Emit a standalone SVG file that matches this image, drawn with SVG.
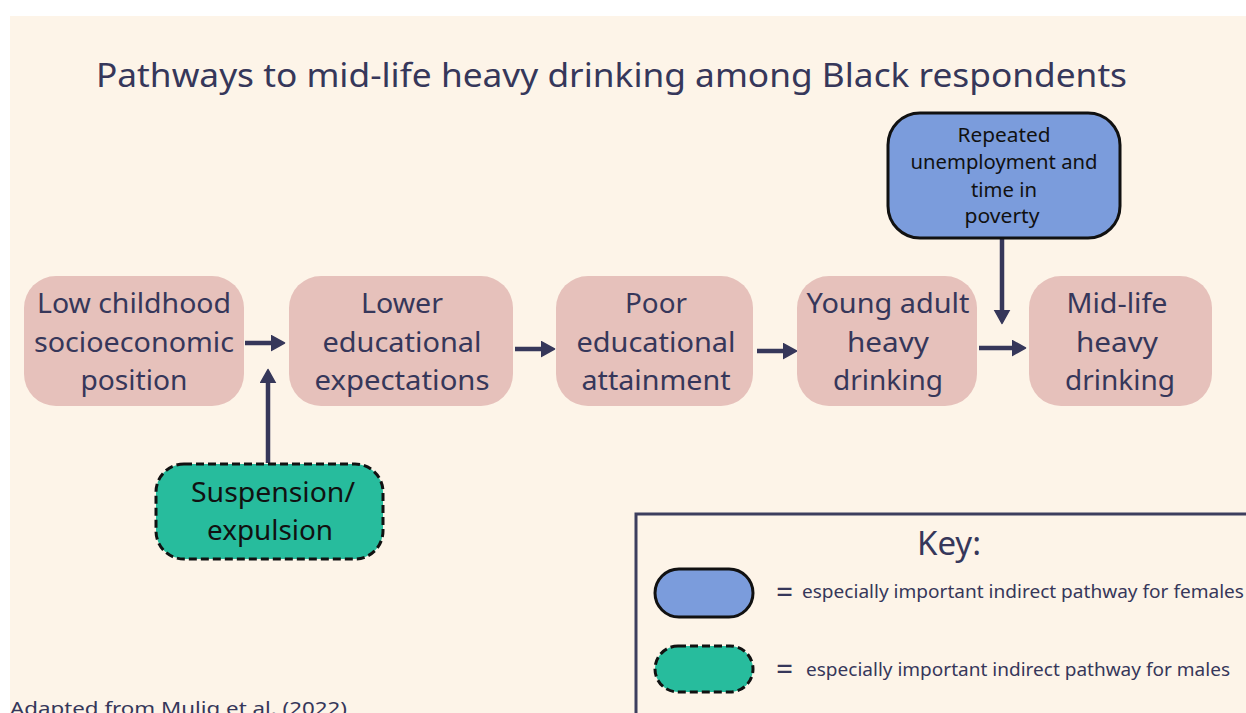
<svg xmlns="http://www.w3.org/2000/svg" width="1246" height="713" viewBox="0 0 1246 713">
  <defs>
    <marker id="head" markerUnits="userSpaceOnUse" markerWidth="15" markerHeight="18" refX="0" refY="8.5" orient="auto">
      <path d="M0,1 L13.5,8.5 L0,16 z" fill="#36375a" stroke="#36375a" stroke-width="1.5" stroke-linejoin="round"/>
    </marker>
    <style>
      .bg { fill: #fdf4e8; }
      .node { fill: #e6c1bb; }
      .ntext { font-family: "Noto Sans", "Liberation Sans", sans-serif; font-size: 27px; fill: #36375a; text-anchor: middle; }
      .title { font-family: "Noto Sans", "Liberation Sans", sans-serif; font-size: 33px; fill: #36375a; }
      .female { fill: #7b9cdc; stroke: #111; stroke-width: 3; }
      .male { fill: #27bc9d; stroke: #111; stroke-width: 3; stroke-dasharray: 8 4; }
      .btext { font-family: "Noto Sans", "Liberation Sans", sans-serif; font-size: 19px; fill: #111; text-anchor: middle; }
      .gtext { font-family: "Noto Sans", "Liberation Sans", sans-serif; font-size: 27px; fill: #111; text-anchor: middle; }
      .conn { fill: none; stroke: #36375a; stroke-width: 4.5; marker-end: url(#head); }
      .legend { font-family: "Noto Sans", "Liberation Sans", sans-serif; font-size: 18px; fill: #36375a; }
      .eq { font-family: "Noto Sans", "Liberation Sans", sans-serif; font-size: 30px; fill: #36375a; }
      .keybox { fill: none; stroke: #3d3e5e; stroke-width: 3; }
    </style>
  </defs>

  <!-- page -->
  <rect x="0" y="0" width="1246" height="713" fill="#ffffff"/>
  <rect class="bg" x="10" y="16" width="1236" height="697"/>

  <text class="title" x="96" y="87" textLength="1031" lengthAdjust="spacingAndGlyphs">Pathways to mid-life heavy drinking among Black respondents</text>

  <!-- connectors -->
  <g id="connectors">
    <path class="conn" d="M245,343 H271"/>
    <path class="conn" d="M268,463 V383"/>
    <path class="conn" d="M515,349 H541"/>
    <path class="conn" d="M757,351 H783"/>
    <path class="conn" d="M979,348 H1012"/>
    <path class="conn" d="M1002,239 V310"/>
  </g>

  <!-- main pathway -->
  <g id="node-ses">
    <rect class="node" x="24" y="276" width="220" height="130" rx="32"/>
    <text class="ntext" x="134" y="313" textLength="194" lengthAdjust="spacingAndGlyphs">Low childhood</text>
    <text class="ntext" x="134" y="352" textLength="200" lengthAdjust="spacingAndGlyphs">socioeconomic</text>
    <text class="ntext" x="134" y="390" textLength="107" lengthAdjust="spacingAndGlyphs">position</text>
  </g>

  <g id="node-expectations">
    <rect class="node" x="289" y="276" width="224" height="130" rx="32"/>
    <text class="ntext" x="402" y="313" textLength="82" lengthAdjust="spacingAndGlyphs">Lower</text>
    <text class="ntext" x="402" y="352" textLength="159" lengthAdjust="spacingAndGlyphs">educational</text>
    <text class="ntext" x="402" y="390" textLength="175" lengthAdjust="spacingAndGlyphs">expectations</text>
  </g>

  <g id="node-attainment">
    <rect class="node" x="556" y="276" width="197" height="130" rx="32"/>
    <text class="ntext" x="656" y="313" textLength="62" lengthAdjust="spacingAndGlyphs">Poor</text>
    <text class="ntext" x="656" y="352" textLength="159" lengthAdjust="spacingAndGlyphs">educational</text>
    <text class="ntext" x="656" y="390" textLength="149" lengthAdjust="spacingAndGlyphs">attainment</text>
  </g>

  <g id="node-young-adult">
    <rect class="node" x="797" y="276" width="180" height="130" rx="32"/>
    <text class="ntext" x="888" y="313" textLength="163" lengthAdjust="spacingAndGlyphs">Young adult</text>
    <text class="ntext" x="888" y="352" textLength="82" lengthAdjust="spacingAndGlyphs">heavy</text>
    <text class="ntext" x="888" y="390" textLength="110" lengthAdjust="spacingAndGlyphs">drinking</text>
  </g>

  <g id="node-midlife">
    <rect class="node" x="1029" y="276" width="183" height="130" rx="32"/>
    <text class="ntext" x="1117" y="313" textLength="101" lengthAdjust="spacingAndGlyphs">Mid-life</text>
    <text class="ntext" x="1117" y="352" textLength="82" lengthAdjust="spacingAndGlyphs">heavy</text>
    <text class="ntext" x="1120" y="390" textLength="110" lengthAdjust="spacingAndGlyphs">drinking</text>
  </g>

  <!-- indirect influences -->
  <g id="node-unemployment">
    <rect class="female" x="888" y="113" width="232" height="125" rx="32"/>
    <text class="btext" x="1004" y="142" textLength="93" lengthAdjust="spacingAndGlyphs">Repeated</text>
    <text class="btext" x="1004" y="169" textLength="187" lengthAdjust="spacingAndGlyphs">unemployment and</text>
    <text class="btext" x="1004" y="197" textLength="66" lengthAdjust="spacingAndGlyphs">time in</text>
    <text class="btext" x="1002" y="223" textLength="75" lengthAdjust="spacingAndGlyphs">poverty</text>
  </g>

  <g id="node-suspension">
    <rect class="male" x="156" y="464" width="227" height="95" rx="28"/>
    <text class="gtext" x="273" y="502" textLength="164" lengthAdjust="spacingAndGlyphs">Suspension/</text>
    <text class="gtext" x="270" y="540" textLength="126" lengthAdjust="spacingAndGlyphs">expulsion</text>
  </g>

  <!-- key -->
  <g id="key">
    <path class="keybox" d="M636,713 V514 H1246"/>
    <text class="title" x="949" y="555" text-anchor="middle" font-size="30">Key:</text>
    <rect class="female" x="655" y="569" width="98" height="48" rx="24"/>
    <text class="eq" x="776" y="603">=</text>
    <text class="legend" x="802" y="598" textLength="442" lengthAdjust="spacingAndGlyphs">especially important indirect pathway for females</text>
    <rect class="male" x="655" y="646" width="98" height="46" rx="23"/>
    <text class="eq" x="776" y="680">=</text>
    <text class="legend" x="806" y="676" textLength="424" lengthAdjust="spacingAndGlyphs">especially important indirect pathway for males</text>
  </g>

  <text class="legend" x="10" y="715" font-size="21" textLength="337" lengthAdjust="spacingAndGlyphs">Adapted from Mulig et al. (2022)</text>
</svg>
